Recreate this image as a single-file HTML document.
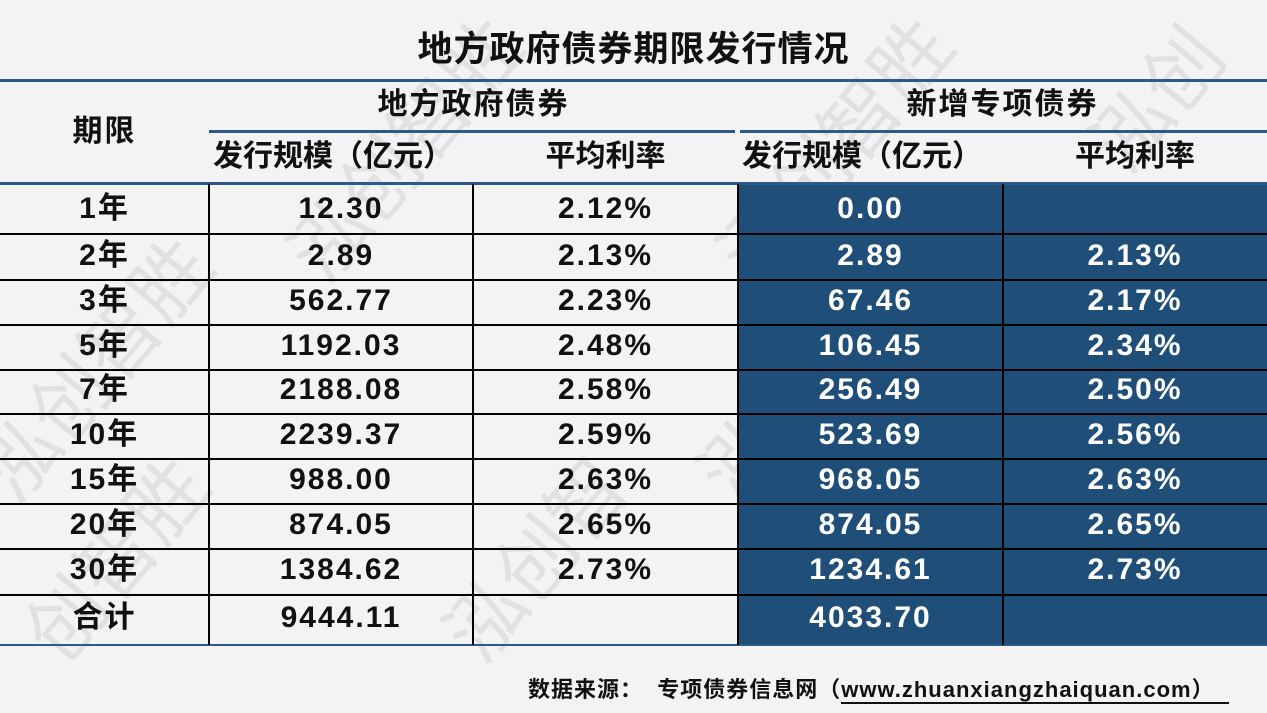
<!DOCTYPE html>
<html style="width:1267px;height:713px;overflow:hidden"><head><meta charset="utf-8"><style>
body{margin:0;width:1267px;height:713px;background:#f3f3f3;position:relative;overflow:hidden;font-family:"Liberation Sans","Noto Sans CJK SC",sans-serif;font-weight:bold;color:#111}
.a{position:absolute}
.t{position:absolute;text-align:center;font-size:30px;line-height:30px;letter-spacing:2px}
.w{color:#fff}
.wm{position:absolute;font-size:78px;line-height:80px;color:rgba(0,0,0,0.07);transform:rotate(-50deg);font-weight:normal;white-space:nowrap}
.h{position:absolute;background:#000;height:2px}
.v{position:absolute;background:#000;width:2px}
#wmc{position:absolute;left:0;top:0;width:1267px;height:713px;overflow:hidden}
</style></head><body>
<div id="wmc">
<div class="wm" style="left:250px;top:110px">泓创智胜</div>
<div class="wm" style="left:680px;top:110px">泓创智胜</div>
<div class="wm" style="left:1080px;top:60px">泓创</div>
<div class="wm" style="left:-60px;top:330px">泓创智胜</div>
<div class="wm" style="left:660px;top:330px">泓创智胜</div>
<div class="wm" style="left:420px;top:520px">泓创智</div>
<div class="wm" style="left:0px;top:520px">创智胜</div>
</div>
<div class="a" style="left:0;top:21px;width:1267px;text-align:center;font-size:35px;letter-spacing:1px">地方政府债券期限发行情况</div>
<div class="a" style="left:738px;top:183px;width:529px;height:462px;background:#1f4e79"></div>
<div class="a" style="left:0;top:79px;width:1267px;height:3px;background:#2e5a8a"></div>
<div class="a" style="left:209px;top:130px;width:526px;height:3px;background:#2e5a8a"></div>
<div class="a" style="left:740px;top:130px;width:527px;height:3px;background:#2e5a8a"></div>
<div class="a" style="left:0;top:182px;width:1267px;height:3px;background:#2e5a8a"></div>
<div class="h" style="left:0;top:233px;width:1267px"></div>
<div class="h" style="left:0;top:279px;width:1267px"></div>
<div class="h" style="left:0;top:324px;width:1267px"></div>
<div class="h" style="left:0;top:369px;width:1267px"></div>
<div class="h" style="left:0;top:413px;width:1267px"></div>
<div class="h" style="left:0;top:458px;width:1267px"></div>
<div class="h" style="left:0;top:503px;width:1267px"></div>
<div class="h" style="left:0;top:548px;width:1267px"></div>
<div class="h" style="left:0;top:594px;width:1267px"></div>
<div class="a" style="left:0;top:644px;width:1267px;height:2px;background:#2e5a8a"></div>
<div class="v" style="left:208px;top:184px;height:461px"></div>
<div class="v" style="left:472px;top:184px;height:461px"></div>
<div class="v" style="left:737px;top:184px;height:461px"></div>
<div class="v" style="left:1002px;top:184px;height:461px"></div>
<div class="t" style="left:0;top:117px;width:209px">期限</div>
<div class="t" style="left:209px;top:90px;width:529px">地方政府债券</div>
<div class="t" style="left:738px;top:90px;width:529px">新增专项债券</div>
<div class="t" style="left:209px;top:142px;width:264px;text-align:left;padding-left:4px;letter-spacing:0">发行规模（亿元）</div>
<div class="t" style="left:473px;top:142px;width:265px;letter-spacing:0">平均利率</div>
<div class="t" style="left:738px;top:142px;width:265px;text-align:left;padding-left:4px;letter-spacing:0">发行规模（亿元）</div>
<div class="t" style="left:1003px;top:142px;width:264px;letter-spacing:0">平均利率</div>
<div id="rows"></div>
<script>
var d=[["1年","12.30","2.12%","0.00",""],["2年","2.89","2.13%","2.89","2.13%"],["3年","562.77","2.23%","67.46","2.17%"],["5年","1192.03","2.48%","106.45","2.34%"],["7年","2188.08","2.58%","256.49","2.50%"],["10年","2239.37","2.59%","523.69","2.56%"],["15年","988.00","2.63%","968.05","2.63%"],["20年","874.05","2.65%","874.05","2.65%"],["30年","1384.62","2.73%","1234.61","2.73%"],["合计","9444.11","","4033.70",""]];
var ys=[194,241,286,331,375,420,465,510,555,603],xs=[[0,209],[209,264],[473,265],[738,265],[1003,264]],h="";
d.forEach(function(r,i){r.forEach(function(c,j){h+='<div class="t'+(j>2?' w':'')+'" style="left:'+xs[j][0]+'px;top:'+ys[i]+'px;width:'+xs[j][1]+'px">'+c+'</div>';});});
document.getElementById('rows').innerHTML=h;
</script>
<div class="a" style="left:528px;top:677px;font-size:22px;line-height:26px;letter-spacing:1px;white-space:nowrap">数据来源：&nbsp;&nbsp;专项债券信息网（<span style="border-bottom:2px solid #111">www.zhuanxiangzhaiquan.com）&nbsp;&nbsp;</span></div>
</body></html>
